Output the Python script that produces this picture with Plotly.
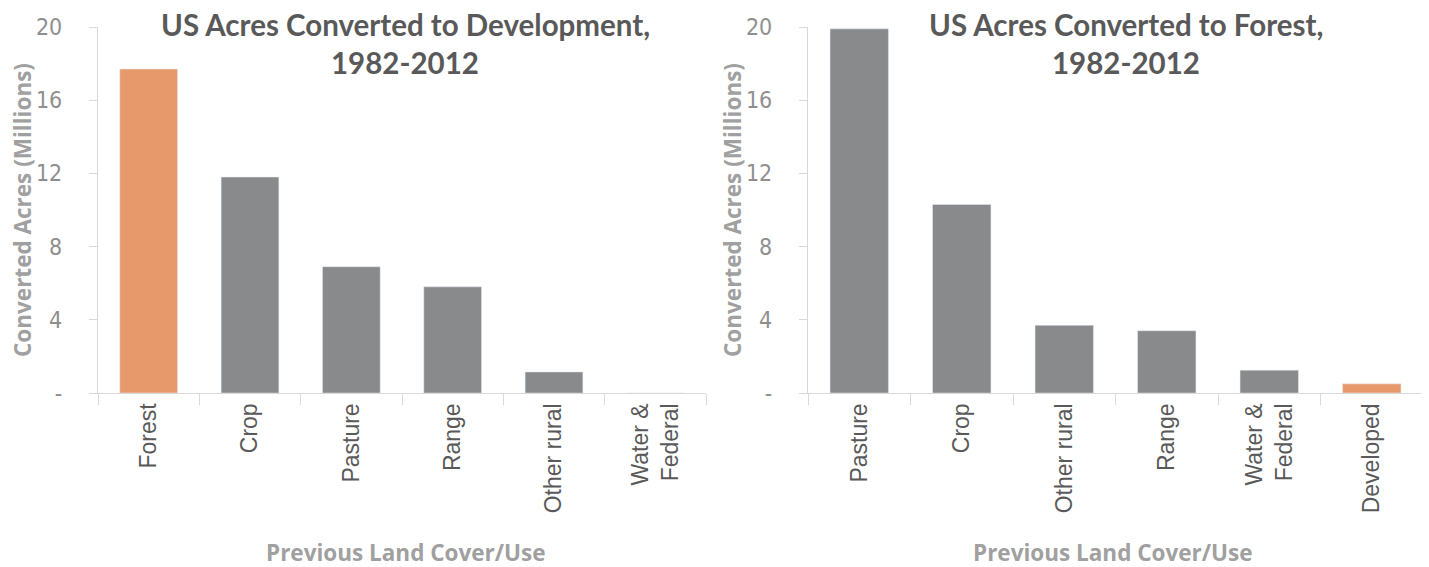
import plotly.graph_objects as go

dev_categories = ["Forest", "Crop", "Pasture", "Range", "Other rural", "Water &<br>Federal"]
dev_values = [17.7, 11.8, 6.9, 5.8, 1.15, 0.0]
dev_colors = ["#E8996B", "#898A8C", "#898A8C", "#898A8C", "#898A8C", "#898A8C"]

for_categories = ["Pasture", "Crop", "Other rural", "Range", "Water &<br>Federal", "Developed"]
for_values = [19.9, 10.3, 3.7, 3.4, 1.25, 0.5]
for_colors = ["#898A8C", "#898A8C", "#898A8C", "#898A8C", "#898A8C", "#E8996B"]

y_tickvals = [0, 4, 8, 12, 16, 20]
y_ticktext = ["-", "4", "8", "12", "16", "20"]

dev_title = ["US Acres Converted to Development,", "1982-2012"]
for_title = ["US Acres Converted to Forest,", "1982-2012"]
y_title = "Converted Acres (Millions)"
x_title = "Previous Land Cover/Use"

TITLE_FONT = "Lato"
AXT_FONT = "Open Sans"
CAT_FONT = "Liberation Sans"
TICK_FONT = "Liberation Sans Narrow, DejaVu Sans Condensed, Liberation Sans"
W, H = 1429, 567
OFF = 8  # page body margin offset


def px_x(x):
    return (x - OFF) / W


def px_y(y):
    return 1 - (y - OFF) / H


fig = go.Figure()
fig.add_trace(go.Bar(x=dev_categories, y=dev_values, marker_color=dev_colors,
                     xaxis="x", yaxis="y", showlegend=False))
fig.add_trace(go.Bar(x=for_categories, y=for_values, marker_color=for_colors,
                     xaxis="x2", yaxis="y2", showlegend=False))

ydom = [px_y(393), px_y(27)]
xdom1 = [px_x(98), px_x(706)]
xdom2 = [px_x(808), px_x(1423)]

xcommon = dict(showline=True, linecolor="#D9D9D9", linewidth=1.3, ticks="outside",
               tickson="boundaries", ticklen=11, tickcolor="#D9D9D9", tickangle=-90,
               tickfont=dict(family=CAT_FONT, size=23, color="#595959"), showgrid=False,
               automargin=False)
ycommon = dict(range=[0, 20], tickvals=y_tickvals, ticktext=y_ticktext, showline=True,
               linecolor="#D9D9D9", linewidth=1.3, ticks="outside", ticklen=8,
               tickcolor="#D9D9D9", tickfont=dict(family=TICK_FONT, size=23, color="#8F8F8F"),
               ticklabelstandoff=22, showgrid=False, zeroline=False, automargin=False)

fig.update_layout(
    width=W, height=H,
    margin=dict(l=0, r=0, t=0, b=0, autoexpand=False),
    paper_bgcolor="white", plot_bgcolor="white",
    bargap=0.43,
    xaxis=dict(domain=xdom1, anchor="y", **xcommon),
    yaxis=dict(domain=ydom, anchor="x", **ycommon),
    xaxis2=dict(domain=xdom2, anchor="y2", **xcommon),
    yaxis2=dict(domain=ydom, anchor="x2", **ycommon),
)

title_font = dict(family=TITLE_FONT, size=29.5, color="#595959")
axis_title_font = dict(family=AXT_FONT, size=22.5, color="#A0A0A0")

for cx, lines in [(405, dev_title), (1126, for_title)]:
    for ly, line in zip([24, 62], lines):
        fig.add_annotation(x=px_x(cx), y=px_y(ly), xref="paper", yref="paper",
                           text="<b>" + line + "</b>", showarrow=False, font=title_font,
                           xanchor="center", yanchor="middle")
for yx in [22, 732]:
    fig.add_annotation(x=px_x(yx), y=px_y(210), xref="paper", yref="paper",
                       text="<b>" + y_title + "</b>", textangle=-90,
                       showarrow=False, font=axis_title_font, xanchor="center", yanchor="middle")
for xx in [406, 1113]:
    fig.add_annotation(x=px_x(xx), y=px_y(552), xref="paper", yref="paper",
                       text="<b>" + x_title + "</b>", showarrow=False,
                       font=axis_title_font, xanchor="center", yanchor="middle")

fig.write_html("out.html")
